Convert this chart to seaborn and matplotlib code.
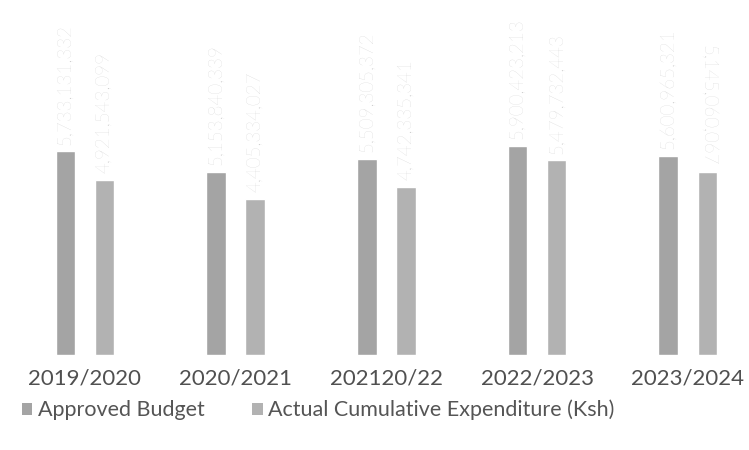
import matplotlib
matplotlib.use("Agg")
import matplotlib.pyplot as plt
import seaborn as sns
import pandas as pd
from matplotlib.patches import Patch

years = ["2019/2020", "2020/2021", "202120/22", "2022/2023", "2023/2024"]
approved = [5733131332, 5153840339, 5509305372, 5900423213, 5600965321]
actual = [4921543099, 4405334027, 4742335341, 5479732443, 5145060067]
series = ["Approved Budget", "Actual Cumulative Expenditure (Ksh)"]
colors = ["#a4a4a4", "#b2b2b2"]

df = pd.DataFrame({
    "year": years * 2,
    "value": approved + actual,
    "series": [series[0]] * len(years) + [series[1]] * len(years),
})

sns.set_theme(style="white")
plt.rcParams["font.family"] = ["Lato", "DejaVu Sans"]

fig = plt.figure(figsize=(7.49, 4.5), dpi=100)
ax = fig.add_axes([0, 95 / 450, 1, 355 / 450])

sns.barplot(data=df, x="year", y="value", hue="series", palette=colors,
            width=0.52, gap=0.5, ax=ax, legend=False, saturation=1)

for i, cont in enumerate(ax.containers):
    for j, bar in enumerate(cont):
        v = bar.get_height()
        x = bar.get_x() + bar.get_width() / 2
        rot = 270 if (i == 1 and j == 4) else 90
        ax.annotate(f"{v:,.0f}", (x, v), xytext=(0, 5), textcoords="offset points",
                    rotation=rot, ha="center", va="bottom", fontsize=13.5,
                    color="#c8c8c8", fontweight="light")

ax.set_xlim(-0.564, 4.406)
ax.set_ylim(0, 10.0e9)
ax.set_xlabel("")
ax.set_ylabel("")
ax.set_yticks([])
for s in ax.spines.values():
    s.set_visible(False)
ax.tick_params(axis="x", length=0, pad=10, labelsize=16)
for t in ax.get_xticklabels():
    t.set_color("#505050")
    t.set_fontweight("normal")

handles = [Patch(facecolor=c, edgecolor="none") for c in colors]
fig.legend(handles, series, loc="center left", bbox_to_anchor=(0.003, 40 / 450),
           ncol=2, frameon=False, fontsize=15.5, labelcolor="#555555",
           handlelength=0.5, handleheight=0.5, handletextpad=0.25, columnspacing=2.2)

fig.savefig("out.png", dpi=100)
